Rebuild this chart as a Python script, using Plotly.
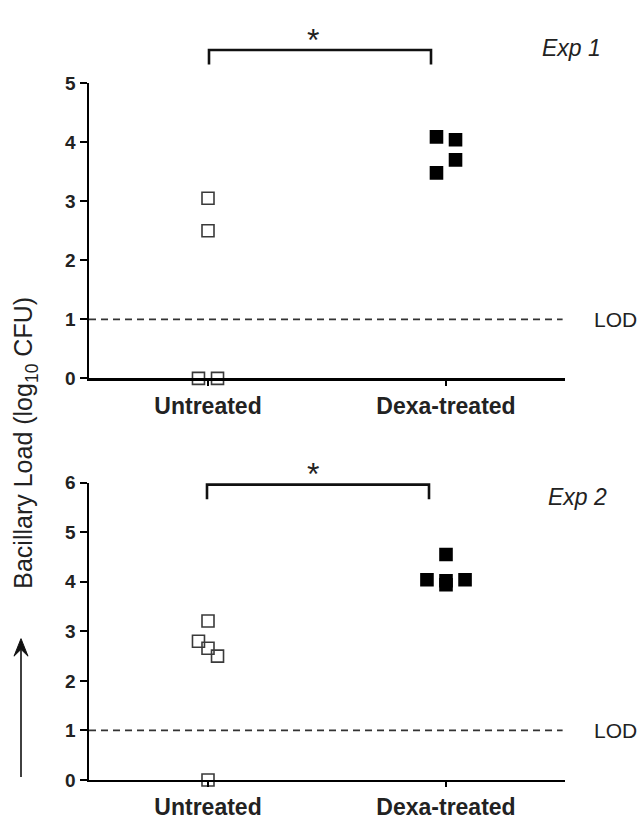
import plotly.graph_objects as go

# ---------------- data ----------------
categories = ["Untreated", "Dexa-treated"]
y_ticks_exp1 = [0, 1, 2, 3, 4, 5]
y_ticks_exp2 = [0, 1, 2, 3, 4, 5, 6]
lod = 1

exp1_untreated = [3.05, 2.50, 0.0, 0.0]
exp1_untreated_jitter = [0.0, 0.0, -0.04, 0.04]
exp1_dexa = [4.09, 4.04, 3.70, 3.48]
exp1_dexa_jitter = [-0.04, 0.04, 0.04, -0.04]

exp2_untreated = [3.21, 2.80, 2.66, 2.50, 0.0]
exp2_untreated_jitter = [0.0, -0.04, 0.0, 0.04, 0.0]
exp2_dexa = [4.55, 4.04, 4.02, 3.94, 4.04]
exp2_dexa_jitter = [0.0, -0.08, 0.0, 0.0, 0.08]

FONT = "Liberation Sans, Arial, sans-serif"
W, H = 644, 828
L, R = 89, 79
PW = W - L - R


def px_x(px):
    return (px - L) / PW


def px_y(py):
    return (H - py) / H


fig = go.Figure()


def add_points(xa, ya, cat_idx, vals, jit, filled):
    xs = [cat_idx + j for j in jit]
    fig.add_trace(go.Scatter(
        x=xs, y=vals, mode="markers", xaxis=xa, yaxis=ya,
        cliponaxis=False, showlegend=False, hoverinfo="skip",
        marker=dict(symbol="square" if filled else "square-open",
                    size=12,
                    color="#000000" if filled else "#3a3a3a",
                    line=dict(width=1.6, color="#000000" if filled else "#3a3a3a")),
    ))


add_points("x", "y", 0, exp1_untreated, exp1_untreated_jitter, False)
add_points("x", "y", 1, exp1_dexa, exp1_dexa_jitter, True)
add_points("x2", "y2", 0, exp2_untreated, exp2_untreated_jitter, False)
add_points("x2", "y2", 1, exp2_dexa, exp2_dexa_jitter, True)

xaxis_common = dict(
    range=[-0.5, 1.5], tickvals=[0, 1], ticktext=categories,
    showline=True, linewidth=2.5, linecolor="black",
    ticks="outside", ticklen=5, tickwidth=2, tickcolor="black",
    showgrid=False, zeroline=False,
    tickfont=dict(family=FONT, size=23, color="#222", weight="bold"),
    fixedrange=True,
)
yaxis_common = dict(
    showline=True, linewidth=2.5, linecolor="black",
    ticks="outside", ticklen=7, tickwidth=2, tickcolor="black",
    showgrid=False, zeroline=False,
    tickfont=dict(family=FONT, size=19, color="#222", weight="bold"),
    fixedrange=True,
)

fig.update_layout(
    width=W, height=H,
    margin=dict(l=L, r=R, t=0, b=0),
    paper_bgcolor="white", plot_bgcolor="white",
    xaxis=dict(domain=[0, 1], anchor="y", **xaxis_common),
    yaxis=dict(domain=[px_y(378), px_y(75)], anchor="x", range=[0, 5],
               tickvals=y_ticks_exp1, **yaxis_common),
    xaxis2=dict(domain=[0, 1], anchor="y2", **xaxis_common),
    yaxis2=dict(domain=[px_y(790), px_y(485)], anchor="x2", range=[0, 6],
                tickvals=y_ticks_exp2, **yaxis_common),
)

shapes = []
# LOD dashed lines
for xr, yr in (("x", "y"), ("x2", "y2")):
    shapes.append(dict(type="line", xref=xr, yref=yr, x0=-0.5, x1=1.49,
                       y0=lod, y1=lod,
                       line=dict(color="#333", width=1.6, dash="7px,5px")))


# significance brackets (annotation marks, paper coordinates)
def bracket(x0, x1, top, bottom):
    shapes.append(dict(type="path", xref="paper", yref="paper",
                       path=(f"M {px_x(x0)},{px_y(bottom)} L {px_x(x0)},{px_y(top)} "
                             f"L {px_x(x1)},{px_y(top)} L {px_x(x1)},{px_y(bottom)}"),
                       line=dict(color="#111", width=2.6)))


bracket(209, 431, 41, 56)
bracket(207, 429, 487, 502)

# upward arrow beside the axis title
shapes.append(dict(type="line", xref="paper", yref="paper",
                   x0=px_x(21), x1=px_x(21), y0=px_y(787), y1=px_y(648),
                   line=dict(color="#111", width=1.6)))
shapes.append(dict(type="path", xref="paper", yref="paper",
                   path=(f"M {px_x(14)},{px_y(663)} L {px_x(21)},{px_y(645)} "
                         f"L {px_x(28)},{px_y(663)} L {px_x(21)},{px_y(656)} Z"),
                   fillcolor="#111", line=dict(color="#111", width=1)))

fig.update_layout(shapes=shapes)


def txt(text, x, y, size, **kw):
    return dict(text=text, x=px_x(x), y=px_y(y), xref="paper", yref="paper",
                xanchor="center", yanchor="middle", showarrow=False,
                font=dict(family=FONT, size=size, color="#222"), **kw)


annotations = [
    txt("*", 313, 31, 32),
    txt("*", 313, 476, 32),
    txt("<i>Exp 1</i>", 571, 39, 23),
    txt("<i>Exp 2</i>", 577, 500, 23),
    txt("LOD", 615, 318, 21),
    txt("LOD", 615, 739, 21),
    txt("Bacillary Load (log<sub>10</sub> CFU)", 25, 444, 25, textangle=-90),
]
fig.update_layout(annotations=annotations)

fig.write_html(
    "out.html",
    config={"displayModeBar": False, "staticPlot": True},
    post_script=("document.body.style.margin='0';"
                 "document.body.style.overflow='hidden';"),
)
